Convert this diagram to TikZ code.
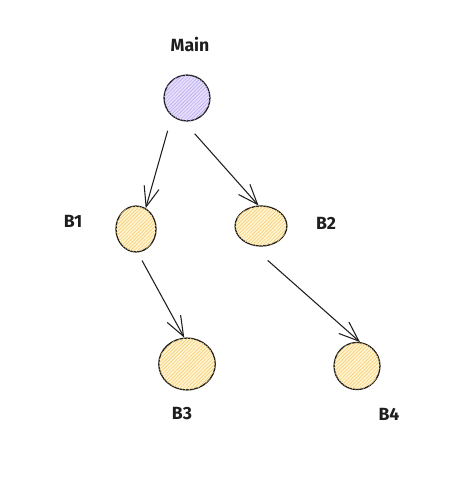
\documentclass[tikz,border=0pt]{standalone}
\usepackage{fontspec}
\setmainfont{Fira Sans}
\usetikzlibrary{shapes.geometric,arrows.meta,patterns}
\definecolor{ink}{HTML}{1E1E1E}
\definecolor{lav}{HTML}{E6DFFB}
\definecolor{lavline}{HTML}{B7A5F0}
\definecolor{ylw}{HTML}{FFF3D0}
\definecolor{ylwline}{HTML}{F5C96A}
\tikzset{
  purplenode/.style={ellipse, draw=ink, line width=1.1pt, inner sep=0pt,
     fill=lav, postaction={pattern=north east lines, pattern color=lavline}},
  yellownode/.style={ellipse, draw=ink, line width=1.1pt, inner sep=0pt,
     fill=ylw, postaction={pattern=north east lines, pattern color=ylwline}},
  lbl/.style={font=\fontsize{15}{17}\selectfont\bfseries, text=ink},
  conn/.style={draw=ink, line width=0.9pt, -{Straight Barb[length=17pt,width=13pt,line width=0.9pt]}}
}
\begin{document}
\begin{tikzpicture}[x=0.85pt,y=-0.85pt]
\useasboundingbox (0,0) rectangle (473,494);
\node[purplenode, minimum width=39pt, minimum height=39pt] (main) at (187,98) {};
\node[yellownode, minimum width=34pt, minimum height=39pt] (b1) at (136,229) {};
\node[yellownode, minimum width=44pt, minimum height=34pt] (b2) at (261,226) {};
\node[yellownode, minimum width=48pt, minimum height=44pt] (b3) at (187,364) {};
\node[yellownode, minimum width=39pt, minimum height=40pt] (b4) at (357,366) {};
\node[lbl] (lmain) at (190,44) {Main};
\node[lbl] (lb1) at (73,221) {B1};
\node[lbl] (lb2) at (326,223) {B2};
\node[lbl] (lb3) at (182,414) {B3};
\node[lbl] (lb4) at (389,414) {B4};
\draw[conn, shorten <=13pt] (main.230) -- (b1.65);
\draw[conn, shorten <=14pt] (main.262) -- (b2.97);
\draw[conn, shorten <=7.8pt] (b1.274) -- (b3.96);
\draw[conn, shorten <=19.9pt] (b2.240) -- (b4.83);
\end{tikzpicture}
\end{document}
